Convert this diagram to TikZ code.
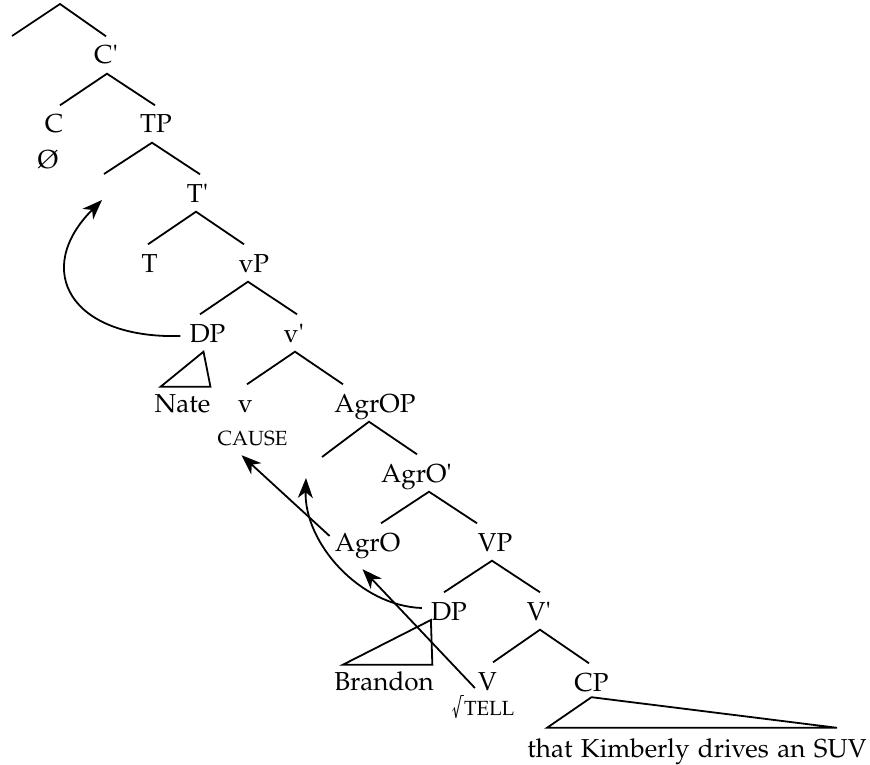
\documentclass[tikz,border=0pt]{standalone}
\usepackage[T1]{fontenc}
\usepackage[sc]{mathpazo}
\usepackage{textcomp}
\usepackage{graphicx}
\usetikzlibrary{arrows.meta,calc}
\tikzset{
  lbl/.style={anchor=center, inner xsep=0pt, inner ysep=9.5pt, text height=18pt, text depth=0pt,
              font=\fontsize{26}{31}\selectfont},
  smalllbl/.style={anchor=center, inner xsep=0pt, inner ysep=9.5pt, text height=14pt, text depth=0pt,
              font=\fontsize{20.5}{24}\selectfont},
  br/.style={line width=1.8pt},
  arr/.style={line width=1.8pt, -{Stealth[length=20pt,width=15pt,inset=6pt]}}
}
\begin{document}
\begin{tikzpicture}[x=1pt,y=1pt]
\useasboundingbox (0,0) rectangle (870,-765);
% nodes
\coordinate (root) at (60,-4);
\coordinate (e0) at (12,-36);
\node[lbl] (cbar) at (106,-55) {C\textquotesingle};
\node[lbl] (c) at (54,-124) {C};
\node[lbl] (oslash) at (48,-159) {\O};
\node[lbl] (tp) at (156,-124) {TP};
\coordinate (tpspec) at (104,-174);
\node[lbl] (tbar) at (197.5,-193) {T\textquotesingle};
\node[lbl] (t) at (149.5,-263) {T};
\node[lbl] (vp) at (254,-263) {vP};
\node[lbl] (dp1) at (207.5,-333) {DP};
\node[lbl] (vbar) at (294,-333) {v\textquotesingle};
\node[lbl] (nate) at (182.5,-403) {Nate};
\node[lbl] (v) at (245.5,-403) {v};
\node[lbl] (agrop) at (375,-403) {AgrOP};
\node[smalllbl] (cause) at (252.5,-438) {CAUSE};
\coordinate (aspec) at (322,-457);
\node[lbl] (agrobar) at (416.5,-473) {AgrO\textquotesingle};
\node[lbl] (agro) at (367.5,-542) {AgrO};
\node[lbl] (vpn) at (495,-542) {VP};
\node[lbl] (dp2) at (449,-611) {DP};
\node[lbl] (vbar2) at (539,-611) {V\textquotesingle};
\node[lbl] (brandon) at (384,-681) {Brandon};
\node[lbl] (vv) at (487.5,-681) {V};
\node[lbl] (cp) at (591.5,-682) {CP};
\node[smalllbl] (tell) at (483,-708) {\scalebox{1.35}{\textsurd}TELL};
\node[lbl] (that) at (697,-748) {\spaceskip=8.5pt that Kimberly drives an SUV};
% branches
\draw[br] (e0) -- (root) -- (cbar.north);
\draw[br] ([xshift=6pt]c.north) -- ([xshift=1pt]cbar.south) -- ([xshift=-1pt]tp.north);
\draw[br] (tpspec) -- ([xshift=-4pt]tp.south) -- ([xshift=2.5pt]tbar.north);
\draw[br] ([xshift=-1.5pt]t.north) -- ([xshift=-1.5pt]tbar.south) -- ([xshift=-10pt]vp.north);
\draw[br] ([xshift=-7.5pt]dp1.north) -- ([xshift=-6pt]vp.south) -- ([xshift=3pt]vbar.north);
\draw[br] ([xshift=1.5pt]v.north) -- ([xshift=1pt]vbar.south) -- ([xshift=-32pt]agrop.north);
\draw[br] (aspec) -- ([xshift=-6pt]agrop.south) -- ([xshift=0.5pt]agrobar.north);
\draw[br] ([xshift=13.5pt]agro.north) -- ([xshift=12.5pt]agrobar.south) -- ([xshift=-18pt]vpn.north);
\draw[br] ([xshift=-5pt]dp2.north) -- ([xshift=-3pt]vpn.south) -- ([xshift=1pt]vbar2.north);
\draw[br] ([xshift=5.5pt]vv.north) -- ([xshift=1pt]vbar2.south) -- ([xshift=-2.5pt]cp.north);
% triangles
\draw[br] ([xshift=-4pt]dp1.south) -- ([xshift=6pt,yshift=-2.5pt]nate.north west) -- ([yshift=-2.5pt]nate.north east) -- cycle;
\draw[br] (dp2.base west) -- ([xshift=8.7pt,yshift=-2.5pt]brandon.north west) -- ([xshift=-1.6pt,yshift=-2.5pt]brandon.north east) -- cycle;
\draw[br] ([yshift=3.5pt]cp.south) -- ([xshift=-150pt,yshift=1.5pt]that.north) -- ([xshift=140pt,yshift=1.5pt]that.north) -- cycle;
% movement arrows
\draw[arr] ([xshift=-9pt,yshift=-3pt]dp1.west) .. controls +(-110,-3) and +(-70,-70) .. ([xshift=-2pt,yshift=-26pt]tpspec);
\draw[arr] ([xshift=-5pt,yshift=6pt]agro.west) -- ([xshift=-11pt,yshift=-0.5pt]cause.south);
\draw[arr] ([xshift=-9pt,yshift=3pt]dp2.west) .. controls +(-62,2) and +(-2,-65) .. ([xshift=-16pt,yshift=-21pt]aspec);
\draw[arr] ([xshift=-3pt,yshift=-7pt]vv.west) -- ([xshift=-5pt,yshift=-8.5pt]agro.south);
\end{tikzpicture}
\end{document}
